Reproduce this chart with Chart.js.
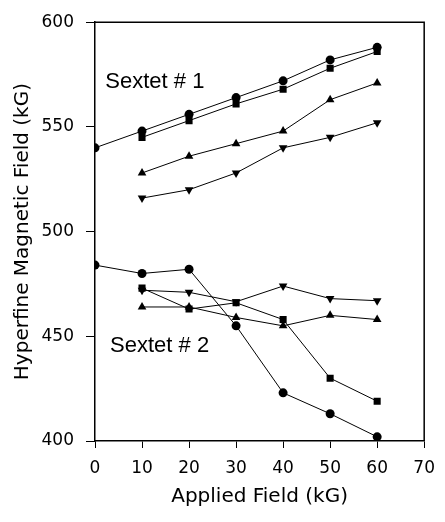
<!DOCTYPE html>
<html>
<head>
<meta charset="utf-8">
<script src="https://cdn.jsdelivr.net/npm/chart.js@4"></script>
<style>
  html, body { margin: 0; padding: 0; background: #fff; }
  #wrap { width: 445px; height: 522px; }
</style>
</head>
<body>
<div id="wrap"><canvas id="chart" width="445" height="522"></canvas></div>
<script>
// applied field (kG), shared by every series
const appliedField = [0, 10, 20, 30, 40, 50, 60];

// Sextet # 1
const s1Circle = [540, 548, 556, 564, 572, 582, 588];
const s1Square = [null, 545, 553, 561, 568, 578, 586];
const s1Up = [null, 528, 536, 542, 548, 563, 571];
const s1Down = [null, 516, 520, 528, 540, 545, 552];

// Sextet # 2
const s2Circle = [484, 480, 482, 455, 423, 413, 402];
const s2Square = [null, 473, 463, 466, 458, 430, 419];
const s2Up = [null, 464, 464, 459, 455, 460, 458];
const s2Down = [null, 472, 471, 466.5, 474, 468, 467];

const xTicks = [0, 10, 20, 30, 40, 50, 60, 70];
const yTicks = [400, 450, 500, 550, 600];

const toPoints = (ys) => appliedField
  .map((x, i) => ({ x, y: ys[i] }))
  .filter((p) => p.y !== null);

const series = (ys, style, rotation = 0) => ({
  data: toPoints(ys),
  borderColor: '#000',
  borderWidth: 1,
  pointStyle: style,
  rotation,
  pointRadius: style === 'circle' ? 4.5 : 5,
  pointBackgroundColor: '#000',
  pointBorderColor: '#000',
  pointBorderWidth: 0,
  fill: false,
  tension: 0,
});

// top/right frame plus the two sextet labels
const framePlugin = {
  id: 'frame',
  afterDraw(chart) {
    const { ctx, chartArea: a, scales } = chart;
    ctx.save();
    ctx.strokeStyle = '#000';
    ctx.lineWidth = 1.5;
    ctx.beginPath();
    ctx.moveTo(a.left, a.top);
    ctx.lineTo(a.right, a.top);
    ctx.lineTo(a.right, a.bottom);
    ctx.stroke();

    ctx.fillStyle = '#000';
    ctx.font = '22px "Liberation Sans", Arial, sans-serif';
    ctx.textAlign = 'left';
    ctx.textBaseline = 'middle';
    ctx.fillText('Sextet # 1', scales.x.getPixelForValue(2.2), scales.y.getPixelForValue(571.5));
    ctx.fillText('Sextet # 2', scales.x.getPixelForValue(3.2), scales.y.getPixelForValue(445.5));
    ctx.restore();
  },
};

new Chart(document.getElementById('chart'), {
  type: 'line',
  data: {
    datasets: [
      series(s1Circle, 'circle'),
      series(s1Square, 'rect'),
      series(s1Up, 'triangle'),
      series(s1Down, 'triangle', 180),
      series(s2Circle, 'circle'),
      series(s2Square, 'rect'),
      series(s2Up, 'triangle'),
      series(s2Down, 'triangle', 180),
    ],
  },
  options: {
    responsive: false,
    animation: false,
    layout: { padding: { left: 7, top: 19, right: 13, bottom: 9 } },
    plugins: { legend: { display: false }, tooltip: { enabled: false } },
    scales: {
      x: {
        type: 'linear',
        min: 0,
        max: 70,
        afterBuildTicks: (s) => { s.ticks = xTicks.map((v) => ({ value: v })); },
        afterFit: (s) => { s.height = 72; },
        grid: { drawOnChartArea: false, drawTicks: true, tickLength: 7, color: '#000' },
        border: { color: '#000', width: 1.5 },
        ticks: { color: '#000', padding: 10, maxRotation: 0, font: { family: '"DejaVu Sans", sans-serif', size: 17 } },
        title: {
          display: true,
          text: 'Applied Field (kG)',
          color: '#000',
          font: { family: '"DejaVu Sans", sans-serif', size: 20 },
          padding: { top: 4, bottom: 4 },
        },
      },
      y: {
        min: 400,
        max: 600,
        afterBuildTicks: (s) => { s.ticks = yTicks.map((v) => ({ value: v })); },
        afterFit: (s) => { s.width = 88; },
        grid: { drawOnChartArea: false, drawTicks: true, tickLength: 9, color: '#000' },
        border: { color: '#000', width: 1.5 },
        ticks: { color: '#000', padding: 12, font: { family: '"DejaVu Sans", sans-serif', size: 17 } },
        title: {
          display: true,
          text: 'Hyperfine Magnetic Field (kG)',
          color: '#000',
          font: { family: '"DejaVu Sans", sans-serif', size: 20 },
          padding: { top: 4, bottom: 4 },
        },
      },
    },
  },
  plugins: [framePlugin],
});
</script>
</body>
</html>
